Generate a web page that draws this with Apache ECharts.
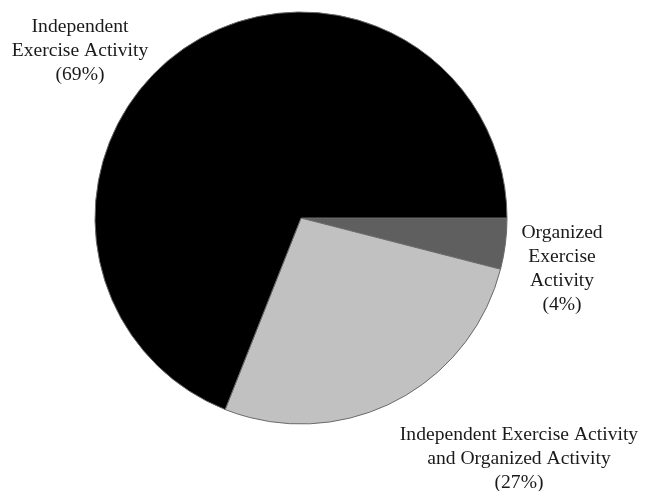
<!DOCTYPE html>
<html>
<head>
<meta charset="utf-8">
<style>
  html, body { margin: 0; padding: 0; background: #ffffff; }
  #chart { width: 647px; height: 491px; }
</style>
<script src="https://cdn.jsdelivr.net/npm/echarts@6/dist/echarts.min.js"></script>
</head>
<body>
<div id="chart"></div>
<script>
// Share of respondents by type of exercise activity (percent)
const categories = [
  'Organized\nExercise\nActivity',
  'Independent Exercise Activity\nand Organized Activity',
  'Independent\nExercise Activity'
];
const shares = [4, 27, 69];
const sliceColors = ['#5f5f5f', '#c1c1c1', '#000000'];

// Where each label block is anchored (center x, top y)
const labelAnchors = [
  { x: 562, y: 221 },
  { x: 519, y: 423 },
  { x: 80, y: 15 }
];

const chart = echarts.init(document.getElementById('chart'), null, { renderer: 'canvas' });

chart.setOption({
  backgroundColor: '#ffffff',
  animation: false,
  series: [{
    type: 'pie',
    center: [301, 218],
    radius: [0, 206],
    startAngle: 0,
    clockwise: true,
    avoidLabelOverlap: false,
    data: categories.map((name, i) => ({
      name: name,
      value: shares[i],
      itemStyle: { color: sliceColors[i] }
    })),
    itemStyle: { borderColor: '#6a6a6a', borderWidth: 1 },
    label: {
      show: true,
      position: 'outside',
      formatter: p => p.name + '\n(' + p.value + '%)',
      fontFamily: '"Liberation Serif", "Times New Roman", serif',
      fontSize: 19.6,
      lineHeight: 24,
      color: '#1a1a1a',
      align: 'center'
    },
    labelLine: { show: false },
    labelLayout: params => {
      const a = labelAnchors[params.dataIndex];
      return { x: a.x, y: a.y, align: 'center', verticalAlign: 'top', hideOverlap: false, moveOverlap: null };
    },
    emphasis: { disabled: true }
  }]
});
</script>
</body>
</html>
